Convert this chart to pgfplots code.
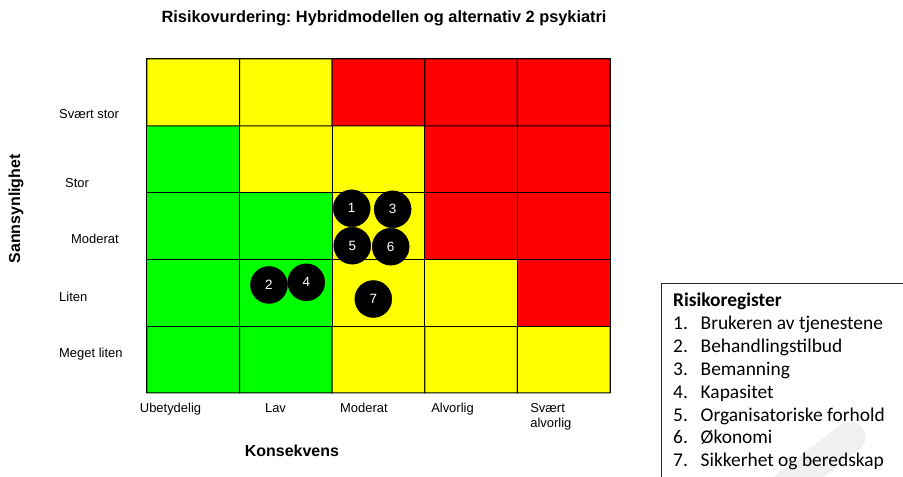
\documentclass[border=0pt]{standalone}
\usepackage{fontspec}
\setmainfont{Liberation Sans}
\newfontfamily\calibri{Carlito}
\usepackage{pgfplots}
\pgfplotsset{compat=1.18}
\frenchspacing

\begin{document}
\begin{tikzpicture}[x=1bp,y=1bp]
% faint watermark stroke behind the register box
\draw[line width=31bp, gray!12, line cap=round] (613,-114) -- (703,-44);
% register box (only left and top edges are inside the picture)
\draw[line width=0.8bp, black!85] (514,-90) -- (514,110) -- (760,110);
\node[anchor=base west, inner sep=0pt, align=left,
      font=\calibri\fontsize{19.5}{22.9}\selectfont] at (526,-73.7) {%
  \textbf{Risikoregister}\\
  \makebox[27.5bp][l]{1.}Brukeren av tjenestene\\
  \makebox[27.5bp][l]{2.}Behandlingstilbud\\
  \makebox[27.5bp][l]{3.}Bemanning\\
  \makebox[27.5bp][l]{4.}Kapasitet\\
  \makebox[27.5bp][l]{5.}Organisatoriske forhold\\
  \makebox[27.5bp][l]{6.}Økonomi\\
  \makebox[27.5bp][l]{7.}Sikkerhet og beredskap};

\begin{axis}[
  scale only axis, width=463bp, height=334bp,
  xmin=0, xmax=5, ymin=0, ymax=5,
  clip=false,
  axis line style={black, line width=1bp},
  major tick length=0pt,
  colormap={risk}{rgb255=(0,255,0) rgb255=(255,255,0) rgb255=(255,0,0)},
  xtick={0.254,1.388,2.343,3.299,4.361},
  xticklabels={Ubetydelig,Lav,Moderat,Alvorlig,{Svært\\alvorlig}},
  ytick={0.584,1.442,2.305,3.148,4.177},
  yticklabels={Meget liten,Liten,\hspace{12bp}Moderat,\hspace{6bp}Stor,Svært stor},
  ticklabel style={font=\fontsize{13}{15}\selectfont},
  xticklabel style={anchor=north, align=left, inner sep=0pt, yshift=-10bp},
  yticklabel style={anchor=west, inner sep=0pt, xshift=-88bp},
  title={Risikovurdering: Hybridmodellen og alternativ 2 psykiatri},
  title style={font=\bfseries\fontsize{16.4}{19}\selectfont,
    at={(axis description cs:0.512,1.105)}, anchor=center},
  xlabel={Konsekvens},
  xlabel style={font=\bfseries\fontsize{16}{19}\selectfont,
    at={(axis description cs:0.313,-0.174)}, anchor=center},
  ylabel={Sannsynlighet},
  ylabel style={font=\bfseries\fontsize{16}{19}\selectfont,
    at={(axis description cs:-0.283,0.551)}, anchor=center},
]
% risk matrix: 0 = green, 1 = yellow, 2 = red
\addplot[matrix plot*, shader=faceted, faceted color=black, line width=1bp,
  mesh/cols=5, point meta=explicit, colormap access=direct]
  table[meta=c] {
x   y   c
0.5 0.5 0
1.5 0.5 0
2.5 0.5 1
3.5 0.5 1
4.5 0.5 1
0.5 1.5 0
1.5 1.5 0
2.5 1.5 1
3.5 1.5 1
4.5 1.5 2
0.5 2.5 0
1.5 2.5 0
2.5 2.5 1
3.5 2.5 2
4.5 2.5 2
0.5 3.5 0
1.5 3.5 1
2.5 3.5 1
3.5 3.5 2
4.5 3.5 2
0.5 4.5 1
1.5 4.5 1
2.5 4.5 2
3.5 4.5 2
4.5 4.5 2
};
% numbered risks
\addplot[only marks, mark=*, mark size=18.5bp,
  mark options={fill=black, draw=black},
  nodes near coords, point meta=explicit symbolic,
  nodes near coords style={anchor=center, text=white,
    font=\fontsize{13.5}{16}\selectfont}]
  table[meta=n] {
x     y     n
2.211 2.765 1
1.317 1.617 2
2.653 2.750 3
1.720 1.657 4
2.217 2.205 5
2.632 2.190 6
2.444 1.407 7
};
\end{axis}
\pgfresetboundingbox
\useasboundingbox (-147,-84) rectangle (756,393);
\end{tikzpicture}
\end{document}
